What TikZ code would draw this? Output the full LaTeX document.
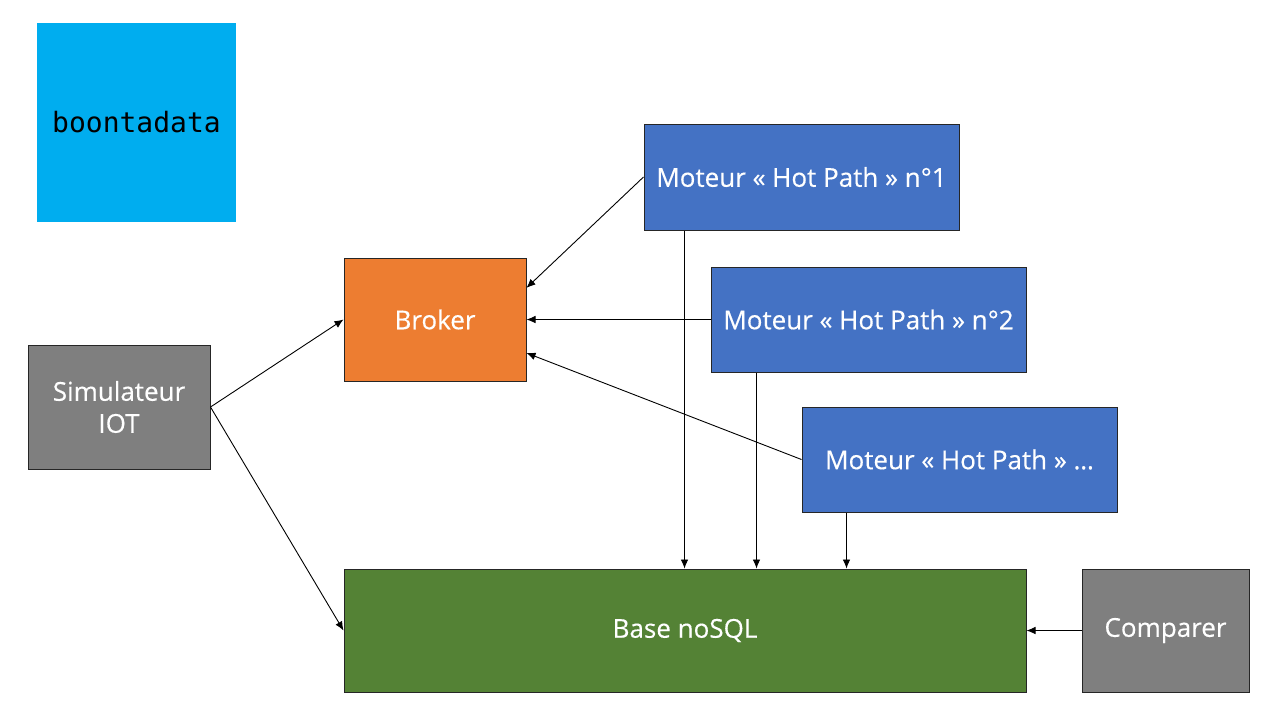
\documentclass[tikz,border=0pt]{standalone}
\usepackage{fontspec}
\setmainfont{Open Sans}[FakeBold=0.35]
\newfontfamily\monofont{DejaVu Sans Mono}
\usetikzlibrary{arrows.meta,calc}
\definecolor{cyanbox}{HTML}{00ADEF}
\definecolor{orangebox}{HTML}{ED7D31}
\definecolor{bluebox}{HTML}{4472C4}
\definecolor{greenbox}{HTML}{548235}
\definecolor{graybox}{HTML}{7F7F7F}
\tikzset{
  box/.style={draw=black!85, line width=0.5pt, text=white, font=\fontsize{13}{16}\selectfont, inner sep=0pt, align=center},
  conn/.style={line width=0.45pt, -{Latex[length=4.5pt,width=3.8pt]}}
}
\begin{document}
\begin{tikzpicture}[x=0.5pt,y=-0.5pt]
\useasboundingbox[fill=white] (0,0) rectangle (1280,720);
\node[fill=cyanbox, minimum width=99.5pt, minimum height=99.5pt, inner sep=0pt, font=\monofont\fontsize{14}{16}\selectfont] (logo) at (136.5,122) {boontadata};
\node[box, fill=orangebox, minimum width=91pt, minimum height=61.5pt] (broker) at (435,319.5) {Broker};
\node[box, fill=graybox, minimum width=91pt, minimum height=62pt] (sim) at (119,407) {Simulateur\\IOT};
\node[box, fill=bluebox, minimum width=157.5pt, minimum height=53pt] (m1) at (801.5,177) {Moteur « Hot Path » n°1};
\node[box, fill=bluebox, minimum width=157.5pt, minimum height=52.5pt] (m2) at (868.5,319.5) {Moteur « Hot Path » n°2};
\node[box, fill=bluebox, minimum width=157.5pt, minimum height=52.5pt] (m3) at (959.5,459.5) {Moteur « Hot Path » …};
\node[box, fill=greenbox, minimum width=341pt, minimum height=61.5pt] (base) at (685,630.5) {Base noSQL};
\node[box, fill=graybox, minimum width=83.5pt, minimum height=61.5pt] (comp) at (1165.5,630.5) {Comparer};
\coordinate (b1) at ($(broker.north east)!0.245!(broker.south east)$);
\coordinate (b3) at ($(broker.north east)!0.77!(broker.south east)$);
\coordinate (m1b) at ($(m1.south west)+(41,0)$);
\coordinate (m2b) at ($(m2.south west)+(46,0)$);
\coordinate (m3b) at ($(m3.south west)+(45,0)$);
\draw[conn] (sim.east) -- (broker.west);
\draw[conn] (sim.east) -- (base.west);
\draw[conn] (m1.west) -- (b1);
\draw[conn] (m2.west) -- (broker.east);
\draw[conn] (m3.west) -- (b3);
\draw[conn] (m1b) -- (m1b |- base.north);
\draw[conn] (m2b) -- (m2b |- base.north);
\draw[conn] (m3b) -- (m3b |- base.north);
\draw[conn] (comp.west) -- (base.east);
\end{tikzpicture}
\end{document}
